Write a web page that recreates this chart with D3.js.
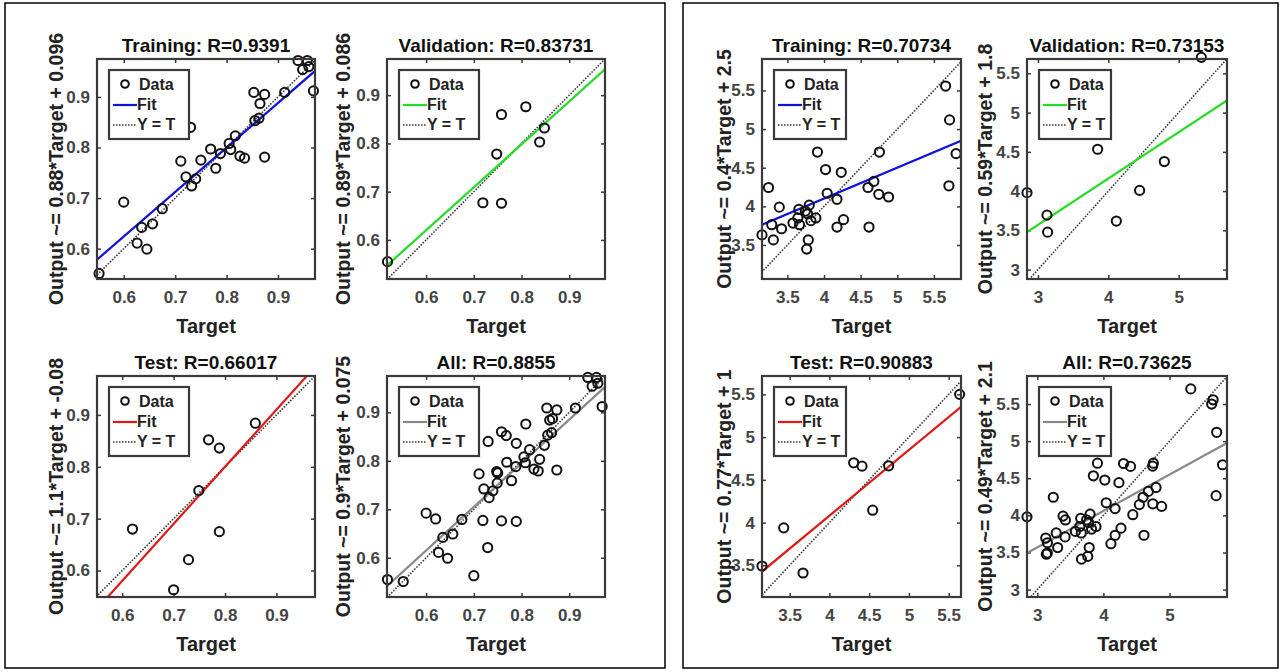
<!DOCTYPE html>
<html>
<head>
<meta charset="utf-8">
<script src="https://cdn.jsdelivr.net/npm/d3@7"></script>
<style>
body { margin: 0; background: #fff; }
text { font-family: "Liberation Sans", Arial, sans-serif; font-weight: bold; }
</style>
</head>
<body>
<svg id="chart" width="1283" height="672"></svg>
<script>
// left figure points [target, output]
var trainA = [[0.552,0.551],[0.6,0.692],[0.626,0.611],[0.635,0.642],[0.645,0.599],[0.656,0.649],[0.675,0.679],
  [0.711,0.773],[0.721,0.742],[0.730,0.840],[0.732,0.724],[0.74,0.738],[0.75,0.775],[0.769,0.797],[0.779,0.759],
  [0.788,0.788],[0.805,0.808],[0.808,0.796],[0.817,0.823],[0.826,0.783],[0.835,0.779],[0.853,0.909],[0.855,0.853],
  [0.863,0.858],[0.865,0.887],[0.874,0.905],[0.874,0.781],[0.913,0.909],[0.939,0.972],[0.948,0.954],[0.957,0.972],
  [0.960,0.960],[0.969,0.912]];
var validA = [[0.519,0.555],[0.719,0.677],[0.758,0.676],[0.748,0.778],[0.758,0.860],[0.809,0.876],[0.838,0.803],[0.848,0.832]];
var testA = [[0.620,0.680],[0.700,0.563],[0.729,0.621],[0.749,0.754],[0.768,0.852],[0.789,0.836],[0.789,0.675],[0.859,0.884]];
var allA = trainA.concat(validA, testA);

// right figure points
var trainB = [[3.153,3.631],[3.242,4.244],[3.286,3.763],[3.308,3.566],[3.389,3.990],[3.420,3.710],[3.576,3.784],
  [3.643,3.850],[3.656,3.960],[3.665,3.763],[3.745,3.938],[3.776,3.903],[3.798,4.016],[3.785,3.566],[3.763,3.447],
  [3.821,3.815],[3.888,3.850],[3.910,4.703],[4.021,4.476],[4.043,4.170],[4.177,4.091],[4.177,3.732],[4.235,4.441],
  [4.266,3.828],[4.600,4.244],[4.614,3.732],[4.680,4.323],[4.756,4.703],[4.747,4.156],[4.881,4.121],[5.660,5.557],
  [5.714,5.119],[5.705,4.266],[5.803,4.682]];
var validB = [[2.844,3.980],[3.128,3.694],[3.137,3.477],[3.848,4.533],[4.114,3.618],[4.445,4.009],[4.796,4.376],[5.322,5.704]];
var testB = [[3.152,3.492],[3.425,3.938],[3.668,3.410],[4.305,4.699],[4.41,4.66],[4.544,4.145],[4.745,4.664],[5.638,5.5]];
var allB = trainB.concat(validB, testB);

var ticksA = [0.6, 0.7, 0.8, 0.9];
var ticksB1 = [3.5, 4, 4.5, 5, 5.5];
var ticksB2 = [3, 4, 5];
var ticksB3 = [3, 3.5, 4, 4.5, 5, 5.5];

var plots = [
  {title:"Training: R=0.9391", ylab:"Output ~= 0.88*Target + 0.096", pts:trainA, m:0.88, b:0.096, col:"#1010e0",
   box:[97,59,315,279], xd:[0.548,0.972], yd:[0.54,0.975], xt:ticksA, yt:ticksA, yl:56},
  {title:"Validation: R=0.83731", ylab:"Output ~= 0.89*Target + 0.086", pts:validA, m:0.89, b:0.086, col:"#22dd22",
   box:[387,59,605,279], xd:[0.518,0.975], yd:[0.519,0.975], xt:ticksA, yt:ticksA, yl:343},
  {title:"Test: R=0.66017", ylab:"Output ~= 1.1*Target + -0.08", pts:testA, m:1.1, b:-0.08, col:"#e01818",
   box:[97,376,315,597], xd:[0.551,0.975], yd:[0.549,0.975], xt:ticksA, yt:ticksA, yl:56},
  {title:"All: R=0.8855", ylab:"Output ~= 0.9*Target + 0.075", pts:allA, m:0.9, b:0.075, col:"#888888",
   box:[387,376,605,597], xd:[0.518,0.975], yd:[0.519,0.975], xt:ticksA, yt:ticksA, yl:343},
  {title:"Training: R=0.70734", ylab:"Output ~= 0.4*Target + 2.5", pts:trainB, m:0.4, b:2.5, col:"#1010e0",
   box:[762,59,961,279], xd:[3.153,5.87], yd:[3.06,5.907], xt:ticksB1, yt:ticksB1, yl:724},
  {title:"Validation: R=0.73153", ylab:"Output ~= 0.59*Target + 1.8", pts:validB, m:0.59, b:1.8, col:"#22dd22",
   box:[1027,59,1227,279], xd:[2.844,5.687], yd:[2.88,5.683], xt:ticksB2, yt:ticksB3, yl:985},
  {title:"Test: R=0.90883", ylab:"Output ~= 0.77*Target + 1", pts:testB, m:0.77, b:1, col:"#e01818",
   box:[762,376,961,597], xd:[3.152,5.655], yd:[3.129,5.715], xt:ticksB1, yt:ticksB1, yl:724},
  {title:"All: R=0.73625", ylab:"Output ~= 0.49*Target + 2.1", pts:allB, m:0.49, b:2.1, col:"#888888",
   box:[1027,376,1227,597], xd:[2.844,5.87], yd:[2.90,5.878], xt:ticksB2, yt:ticksB3, yl:985}
];

var svg = d3.select("#chart");
var fmt = function(v){ return String(v); };

svg.append("rect").attr("x",5).attr("y",3).attr("width",660).attr("height",665)
  .attr("fill","none").attr("stroke","#000").attr("stroke-width",1.5);
svg.append("rect").attr("x",683).attr("y",3).attr("width",595).attr("height",665)
  .attr("fill","none").attr("stroke","#000").attr("stroke-width",1.5);

plots.forEach(function(p, i){
  var x0 = p.box[0], y0 = p.box[1], x1 = p.box[2], y1 = p.box[3];
  var x = d3.scaleLinear().domain(p.xd).range([x0, x1]);
  var y = d3.scaleLinear().domain(p.yd).range([y1, y0]);
  var g = svg.append("g");

  g.append("clipPath").attr("id","clip"+i).append("rect")
    .attr("x",x0).attr("y",y0).attr("width",x1-x0).attr("height",y1-y0);

  // axes with inward ticks
  g.append("g").attr("transform","translate(0,"+y1+")")
    .call(d3.axisBottom(x).tickValues(p.xt).tickFormat(fmt).tickSizeInner(-4).tickSizeOuter(0).tickPadding(12))
    .call(styleAxis);
  g.append("g").attr("transform","translate("+x0+",0)")
    .call(d3.axisLeft(y).tickValues(p.yt).tickFormat(fmt).tickSizeInner(-4).tickSizeOuter(0).tickPadding(7))
    .call(styleAxis);
  g.append("g").attr("transform","translate(0,"+y0+")")
    .call(d3.axisTop(x).tickValues(p.xt).tickSizeInner(-4).tickSizeOuter(0).tickFormat(""))
    .call(styleAxis);
  g.append("g").attr("transform","translate("+x1+",0)")
    .call(d3.axisRight(y).tickValues(p.yt).tickSizeInner(-4).tickSizeOuter(0).tickFormat(""))
    .call(styleAxis);

  var inner = g.append("g").attr("clip-path","url(#clip"+i+")");
  var lo = Math.min(p.xd[0], p.yd[0]), hi = Math.max(p.xd[1], p.yd[1]);
  inner.append("line").attr("x1",x(lo)).attr("y1",y(lo)).attr("x2",x(hi)).attr("y2",y(hi))
    .attr("stroke","#333").attr("stroke-width",1.6).attr("stroke-dasharray","1.5,1.5");
  inner.append("line").attr("x1",x(p.xd[0])).attr("y1",y(p.m*p.xd[0]+p.b))
    .attr("x2",x(p.xd[1])).attr("y2",y(p.m*p.xd[1]+p.b))
    .attr("stroke",p.col).attr("stroke-width",2.2);

  g.selectAll("circle.pt").data(p.pts).enter().append("circle")
    .attr("cx",function(d){ return x(d[0]); })
    .attr("cy",function(d){ return y(d[1]); })
    .attr("r",4.6).attr("fill","none").attr("stroke","#111").attr("stroke-width",2);

  g.append("rect").attr("x",x0).attr("y",y0).attr("width",x1-x0).attr("height",y1-y0)
    .attr("fill","none").attr("stroke","#3a3a3a").attr("stroke-width",2.2);

  // legend
  var lw = (x1 - x0) > 210 ? 80 : 72;
  var lg = g.append("g").attr("transform","translate("+(x0+12)+","+(y0+11)+")");
  lg.append("rect").attr("width",lw).attr("height",69).attr("fill","#fff")
    .attr("stroke","#3a3a3a").attr("stroke-width",2.2);
  lg.append("circle").attr("cx",16).attr("cy",14).attr("r",3.8).attr("fill","none")
    .attr("stroke","#111").attr("stroke-width",2);
  lg.append("line").attr("x1",4).attr("x2",28).attr("y1",35).attr("y2",35)
    .attr("stroke",p.col).attr("stroke-width",2.2);
  lg.append("line").attr("x1",4).attr("x2",28).attr("y1",55).attr("y2",55)
    .attr("stroke","#333").attr("stroke-width",1.6).attr("stroke-dasharray","1.5,1.5");
  ["Data","Fit","Y = T"].forEach(function(t, k){
    lg.append("text").attr("x", k == 0 ? 30 : 28).attr("y",20 + k*20)
      .attr("font-size",16).attr("fill","#222").text(t);
  });

  g.append("text").attr("x",(x0+x1)/2).attr("y",y0-7).attr("text-anchor","middle")
    .attr("font-size",19).attr("fill","#111").text(p.title);
  g.append("text").attr("x",(x0+x1)/2).attr("y",y1+54).attr("text-anchor","middle")
    .attr("font-size",20).attr("fill","#222").text("Target");
  g.append("text").attr("transform","translate("+p.yl+","+((y0+y1)/2)+") rotate(-90)")
    .attr("text-anchor","middle").attr("dy","0.35em")
    .attr("font-size",19.5).attr("fill","#222").text(p.ylab);
});

function styleAxis(sel){
  sel.select(".domain").remove();
  sel.selectAll(".tick line").attr("stroke","#3a3a3a").attr("stroke-width",1.5);
  sel.selectAll(".tick text").attr("font-size",17).attr("fill","#444")
    .style("font-family","'Liberation Sans', Arial, sans-serif").style("font-weight","bold");
}
</script>
</body>
</html>
